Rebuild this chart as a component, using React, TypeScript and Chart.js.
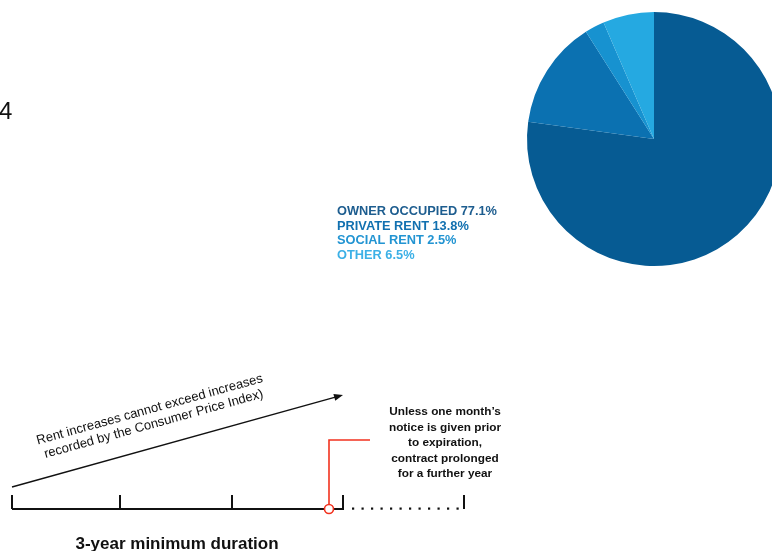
import React, { useEffect, useRef } from "react";
import { Chart, registerables } from "chart.js";

Chart.register(...registerables);

const categories = ["OWNER OCCUPIED", "PRIVATE RENT", "SOCIAL RENT", "OTHER"];
const shares = [77.1, 13.8, 2.5, 6.5];
const sliceColors = ["#065b93", "#0b71b1", "#1792d0", "#25a9e1"];
const legendColors = ["#1d5d8f", "#1170b0", "#2294d2", "#3cb0e6"];
const cornerLabel = "4";
const arrowLines = ["Rent increases cannot exceed increases", "recorded by the Consumer Price Index)"];
const noteLines = ["Unless one month\u2019s", "notice is given prior", "to expiration,", "contract prolonged", "for a further year"];
const durationLabel = "3-year minimum duration";

const FONT = '"Liberation Sans", Arial, Helvetica, sans-serif';

const overlayPlugin = {
  id: "overlay",
  afterDraw(chart: any) {
    const ctx: CanvasRenderingContext2D = chart.ctx;
    ctx.save();

    // corner label
    ctx.fillStyle = "#111";
    ctx.font = `24px ${FONT}`;
    ctx.textAlign = "left";
    ctx.textBaseline = "alphabetic";
    ctx.fillText(cornerLabel, -1, 119);

    // legend text
    ctx.font = `bold 12.8px ${FONT}`;
    categories.forEach((c, i) => {
      ctx.fillStyle = legendColors[i];
      ctx.fillText(`${c} ${shares[i]}%`, 337, 215 + i * 14.6);
    });

    // arrow
    ctx.strokeStyle = "#111";
    ctx.fillStyle = "#111";
    ctx.lineWidth = 1.3;
    const x0 = 12, y0 = 487, x1 = 343, y1 = 395;
    const ang = Math.atan2(y1 - y0, x1 - x0);
    ctx.beginPath();
    ctx.moveTo(x0, y0);
    ctx.lineTo(x1 - 7 * Math.cos(ang), y1 - 7 * Math.sin(ang));
    ctx.stroke();
    ctx.beginPath();
    ctx.moveTo(x1, y1);
    ctx.lineTo(x1 - 9 * Math.cos(ang) + 3.5 * Math.sin(ang), y1 - 9 * Math.sin(ang) - 3.5 * Math.cos(ang));
    ctx.lineTo(x1 - 9 * Math.cos(ang) - 3.5 * Math.sin(ang), y1 - 9 * Math.sin(ang) + 3.5 * Math.cos(ang));
    ctx.closePath();
    ctx.fill();

    // rotated text
    ctx.save();
    ctx.translate(152, 418);
    ctx.rotate(ang);
    ctx.font = `13px ${FONT}`;
    ctx.textAlign = "center";
    ctx.fillText(arrowLines[0], 0, -5);
    ctx.fillText(arrowLines[1], 0, 10);
    ctx.restore();

    // timeline
    ctx.lineWidth = 2;
    ctx.strokeStyle = "#111";
    ctx.beginPath();
    ctx.moveTo(12, 509);
    ctx.lineTo(344, 509);
    [12, 120, 232, 343].forEach((x) => {
      ctx.moveTo(x, 509);
      ctx.lineTo(x, 495);
    });
    ctx.moveTo(464, 509);
    ctx.lineTo(464, 495);
    ctx.stroke();
    for (let i = 0; i < 12; i++) {
      ctx.fillRect(352 + i * 9.5, 507.5, 2.2, 2.2);
    }

    // red marker
    ctx.strokeStyle = "#f2321f";
    ctx.lineWidth = 1.6;
    ctx.beginPath();
    ctx.moveTo(329, 504.5);
    ctx.lineTo(329, 440);
    ctx.lineTo(370, 440);
    ctx.stroke();
    ctx.fillStyle = "#fff";
    ctx.beginPath();
    ctx.arc(329, 509, 4.5, 0, Math.PI * 2);
    ctx.fill();
    ctx.stroke();

    // note text
    ctx.fillStyle = "#111";
    ctx.font = `bold 11.8px ${FONT}`;
    ctx.textAlign = "center";
    noteLines.forEach((l, i) => ctx.fillText(l, 445, 415 + i * 15.6));

    // duration label
    ctx.font = `bold 17px ${FONT}`;
    ctx.fillText(durationLabel, 177, 549);

    ctx.restore();
  },
};

export default function App() {
  const ref = useRef<HTMLCanvasElement | null>(null);
  useEffect(() => {
    if (!ref.current) return;
    const chart = new Chart(ref.current, {
      type: "pie",
      data: {
        labels: categories,
        datasets: [
          {
            data: shares,
            backgroundColor: sliceColors,
            borderWidth: 0,
          },
        ],
      },
      options: {
        responsive: false,
        animation: false,
        layout: { padding: { left: 527, right: 9, top: 12, bottom: 285 } },
        plugins: { legend: { display: false }, tooltip: { enabled: false } },
      },
      plugins: [overlayPlugin],
    });
    return () => chart.destroy();
  }, []);
  return (
    <div style={{ position: "absolute", left: 0, top: 0, width: 772, height: 551, overflow: "hidden", background: "#fff" }}>
      <canvas ref={ref} width={790} height={551} style={{ display: "block" }} />
    </div>
  );
}
